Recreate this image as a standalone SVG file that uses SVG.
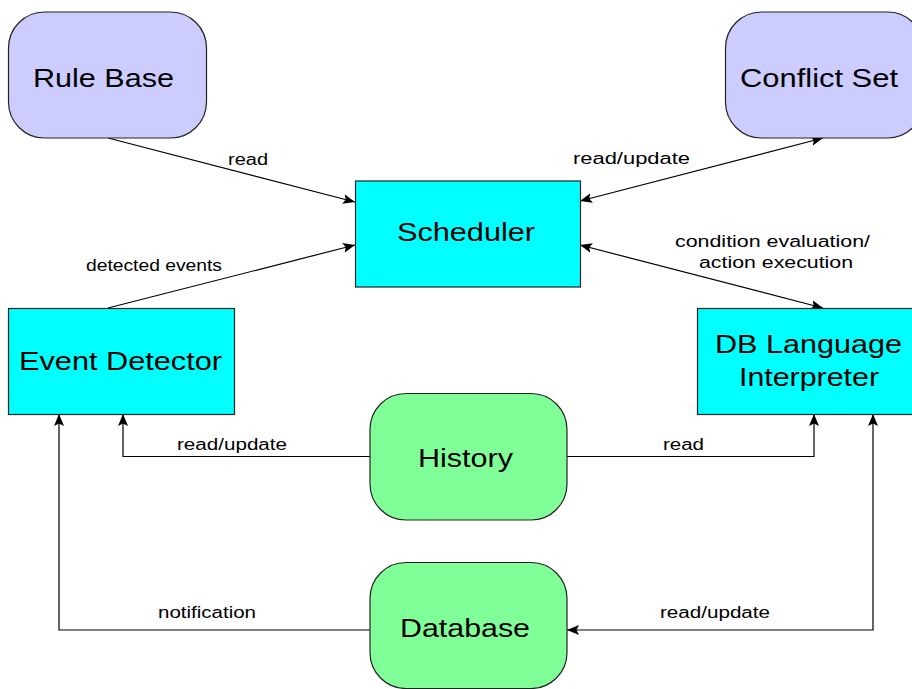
<svg xmlns="http://www.w3.org/2000/svg" width="912" height="689" viewBox="0 0 912 689">
  <style>
    .store { fill: #CCCCFF; stroke: #222; stroke-width: 1.2; }
    .proc { fill: #00FFFF; stroke: #222; stroke-width: 1.2; }
    .data { fill: #80FF99; stroke: #222; stroke-width: 1.2; }
    .big { font-family: "Liberation Sans", Arial, sans-serif; font-size: 26px; fill: #000; }
    .lbl { font-family: "Liberation Sans", Arial, sans-serif; font-size: 16px; fill: #000; }
    .edge { fill: none; stroke: #000; stroke-width: 1.2; }
  </style>
  <defs>
    <marker id="arrow" markerUnits="userSpaceOnUse" markerWidth="13" markerHeight="10" refX="12" refY="5" orient="auto-start-reverse">
      <path d="M0,0 L12,5 L0,10 L2.5,5 z" fill="#000"/>
    </marker>
  </defs>

  <rect width="912" height="689" fill="#fff"/>

  <g id="connectors">
    <line class="edge" x1="108" y1="138" x2="355" y2="202" marker-end="url(#arrow)"/>
    <line class="edge" x1="108" y1="308" x2="355" y2="245" marker-end="url(#arrow)"/>
    <line class="edge" x1="580" y1="201" x2="823" y2="138" marker-start="url(#arrow)" marker-end="url(#arrow)"/>
    <line class="edge" x1="580" y1="245" x2="823" y2="308" marker-start="url(#arrow)" marker-end="url(#arrow)"/>
    <polyline class="edge" points="370,456.5 123,456.5 123,414" marker-end="url(#arrow)"/>
    <polyline class="edge" points="567,456.5 814,456.5 814,414" marker-end="url(#arrow)"/>
    <polyline class="edge" points="370,630 59,630 59,414" marker-end="url(#arrow)"/>
    <polyline class="edge" points="567,630 873,630 873,414" marker-start="url(#arrow)" marker-end="url(#arrow)"/>
    <text class="lbl" x="228" y="165" textLength="40" lengthAdjust="spacingAndGlyphs">read</text>
    <text class="lbl" x="573" y="164" textLength="117" lengthAdjust="spacingAndGlyphs">read/update</text>
    <text class="lbl" x="86" y="271" textLength="136" lengthAdjust="spacingAndGlyphs">detected events</text>
    <text class="lbl" x="675" y="247" textLength="195" lengthAdjust="spacingAndGlyphs">condition evaluation/</text>
    <text class="lbl" x="699" y="268" textLength="154" lengthAdjust="spacingAndGlyphs">action execution</text>
    <text class="lbl" x="177" y="450" textLength="110" lengthAdjust="spacingAndGlyphs">read/update</text>
    <text class="lbl" x="663" y="450" textLength="41" lengthAdjust="spacingAndGlyphs">read</text>
    <text class="lbl" x="158" y="618" textLength="98" lengthAdjust="spacingAndGlyphs">notification</text>
    <text class="lbl" x="660" y="618" textLength="110" lengthAdjust="spacingAndGlyphs">read/update</text>
  </g>

  <g id="rule-base">
    <rect class="store" x="8.5" y="12" width="198" height="126" rx="36" ry="36"/>
    <text class="big" x="33" y="87" textLength="141" lengthAdjust="spacingAndGlyphs">Rule Base</text>
  </g>
  <g id="conflict-set">
    <rect class="store" x="725.5" y="12" width="198" height="126" rx="36" ry="36"/>
    <text class="big" x="740" y="87" textLength="158" lengthAdjust="spacingAndGlyphs">Conflict Set</text>
  </g>
  <g id="scheduler">
    <rect class="proc" x="355.5" y="181" width="225" height="106"/>
    <text class="big" x="397" y="241" textLength="138" lengthAdjust="spacingAndGlyphs">Scheduler</text>
  </g>
  <g id="event-detector">
    <rect class="proc" x="8.5" y="308.5" width="226" height="106"/>
    <text class="big" x="19" y="370" textLength="203" lengthAdjust="spacingAndGlyphs">Event Detector</text>
  </g>
  <g id="db-language-interpreter">
    <rect class="proc" x="697.5" y="308.5" width="226" height="106"/>
    <text class="big" x="715" y="353" textLength="187" lengthAdjust="spacingAndGlyphs">DB Language</text>
    <text class="big" x="739" y="386" textLength="140" lengthAdjust="spacingAndGlyphs">Interpreter</text>
  </g>
  <g id="history">
    <rect class="data" x="370" y="393.5" width="197" height="126.5" rx="36" ry="36"/>
    <text class="big" x="418" y="467" textLength="95" lengthAdjust="spacingAndGlyphs">History</text>
  </g>
  <g id="database">
    <rect class="data" x="370" y="562.5" width="197" height="126" rx="36" ry="36"/>
    <text class="big" x="400" y="637" textLength="130" lengthAdjust="spacingAndGlyphs">Database</text>
  </g>
</svg>
